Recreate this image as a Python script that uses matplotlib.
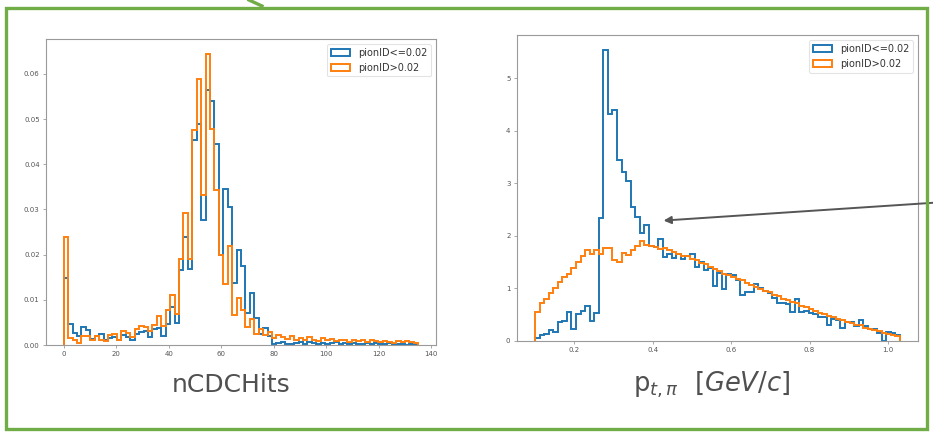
import numpy as np
import matplotlib
matplotlib.use("Agg")
import matplotlib.pyplot as plt
from matplotlib.patches import Rectangle

# ---- data: density per bin, 80 equal-width bins ----
ncdc_range = (0, 135)
pt_range = (0.1, 1.03)
n_bins = 80

ncdc_low = [  # pionID <= 0.02
    0.0148, 0.0046, 0.0026, 0.0019, 0.0039, 0.0034, 0.0014, 0.0020,
    0.0025, 0.0012, 0.0015, 0.0018, 0.0012, 0.0022, 0.0018, 0.0012,
    0.0025, 0.0028, 0.0030, 0.0018, 0.0035, 0.0038, 0.0020, 0.0047,
    0.0084, 0.0048, 0.0167, 0.0238, 0.0169, 0.0453, 0.0490, 0.0276,
    0.0564, 0.0540, 0.0445, 0.0200, 0.0345, 0.0305, 0.0138, 0.0210,
    0.0175, 0.0070, 0.0115, 0.0060, 0.0025, 0.0038, 0.0020, 0.0003,
    0.0004, 0.0006, 0.0003, 0.0002, 0.0005, 0.0007, 0.0003, 0.0006,
    0.0004, 0.0002, 0.0005, 0.0003, 0.0004, 0.0006, 0.0002, 0.0004,
    0.0003, 0.0005, 0.0002, 0.0003, 0.0004, 0.0002, 0.0005, 0.0003,
    0.0002, 0.0004, 0.0002, 0.0003, 0.0002, 0.0001, 0.0002, 0.0001,
]
ncdc_high = [  # pionID > 0.02
    0.0238, 0.0016, 0.0010, 0.0005, 0.0020, 0.0019, 0.0010, 0.0020,
    0.0012, 0.0008, 0.0022, 0.0025, 0.0012, 0.0030, 0.0026, 0.0018,
    0.0035, 0.0043, 0.0040, 0.0030, 0.0045, 0.0065, 0.0042, 0.0078,
    0.0111, 0.0068, 0.0191, 0.0293, 0.0191, 0.0475, 0.0588, 0.0331,
    0.0645, 0.0477, 0.0342, 0.0200, 0.0134, 0.0220, 0.0066, 0.0103,
    0.0077, 0.0040, 0.0058, 0.0025, 0.0035, 0.0022, 0.0028, 0.0015,
    0.0022, 0.0018, 0.0014, 0.0020, 0.0012, 0.0016, 0.0010, 0.0018,
    0.0012, 0.0009, 0.0015, 0.0011, 0.0014, 0.0008, 0.0012, 0.0010,
    0.0007, 0.0012, 0.0009, 0.0011, 0.0006, 0.0010, 0.0008, 0.0006,
    0.0009, 0.0007, 0.0005, 0.0008, 0.0006, 0.0008, 0.0007, 0.0004,
]
pt_low = [
    0.05, 0.10, 0.13, 0.20, 0.17, 0.35, 0.37, 0.55,
    0.22, 0.50, 0.57, 0.66, 0.37, 0.52, 2.33, 5.55,
    4.33, 4.40, 3.45, 3.22, 3.05, 2.55, 2.35, 2.05,
    2.20, 1.80, 1.78, 1.93, 1.60, 1.65, 1.58, 1.65,
    1.55, 1.62, 1.65, 1.40, 1.50, 1.35, 1.38, 1.05,
    1.30, 0.98, 1.28, 1.26, 1.15, 0.88, 0.92, 0.93,
    1.09, 1.00, 0.95, 0.90, 0.82, 0.72, 0.72, 0.70,
    0.55, 0.80, 0.55, 0.56, 0.52, 0.50, 0.46, 0.45,
    0.30, 0.42, 0.40, 0.25, 0.36, 0.35, 0.28, 0.39,
    0.28, 0.23, 0.22, 0.15, 0.00, 0.17, 0.15, 0.10,
]
pt_high = [
    0.55, 0.72, 0.80, 0.90, 1.00, 1.12, 1.22, 1.28,
    1.38, 1.50, 1.62, 1.72, 1.66, 1.72, 1.66, 1.76,
    1.77, 1.53, 1.50, 1.68, 1.63, 1.72, 1.80, 1.90,
    1.82, 1.80, 1.78, 1.75, 1.76, 1.72, 1.70, 1.66,
    1.62, 1.61, 1.55, 1.53, 1.48, 1.46, 1.40, 1.37,
    1.33, 1.28, 1.26, 1.22, 1.18, 1.15, 1.10, 1.06,
    1.02, 0.99, 0.95, 0.93, 0.88, 0.86, 0.80, 0.78,
    0.74, 0.71, 0.66, 0.64, 0.60, 0.57, 0.53, 0.51,
    0.47, 0.45, 0.41, 0.39, 0.35, 0.34, 0.30, 0.29,
    0.25, 0.23, 0.20, 0.18, 0.15, 0.13, 0.11, 0.09,
]
labels = ["pionID<=0.02", "pionID>0.02"]
colors = ["#1f77b4", "#ff7f0e"]

W, H = 933, 433
fig = plt.figure(figsize=(W / 100, H / 100), dpi=100)
fig.patch.set_facecolor("white")


def px_axes(left, top, right, bottom):
    return fig.add_axes([left / W, 1 - bottom / H, (right - left) / W, (bottom - top) / H])


def draw_hist(ax, lo, hi, series):
    edges = np.linspace(lo, hi, n_bins + 1)
    centers = 0.5 * (edges[:-1] + edges[1:])
    for vals, lab, col in zip(series, labels, colors):
        ax.hist(centers, bins=edges, weights=vals, histtype="step",
                color=col, lw=1.4, label=lab)
    for sp in ax.spines.values():
        sp.set_color("#9a9a9a")
        sp.set_linewidth(0.8)
    ax.tick_params(labelsize=5, colors="#9a9a9a", labelcolor="#555555",
                   length=2.5, width=0.6, pad=2)
    leg = ax.legend(loc="upper right", fontsize=7, frameon=True,
                    handlelength=2.0, borderaxespad=0.5)
    leg.get_frame().set_edgecolor("#dddddd")
    leg.get_frame().set_linewidth(0.8)
    for t in leg.get_texts():
        t.set_color("#333333")


ax1 = px_axes(46, 39, 436, 345)
draw_hist(ax1, *ncdc_range, [ncdc_low, ncdc_high])
ax1.set_xticks(np.arange(0, 141, 20))
ax1.yaxis.set_major_formatter(matplotlib.ticker.FormatStrFormatter("%.2f"))

ax2 = px_axes(516.7, 35, 918, 340.7)
draw_hist(ax2, *pt_range, [pt_low, pt_high])
ax2.set_xticks([0.2, 0.4, 0.6, 0.8, 1.0])
ax2.set_yticks(range(0, 6))

# axis titles below each panel
fig.text(231 / W, 1 - 385 / H, "nCDCHits", fontsize=18, color="#505050",
         ha="center", va="center")
fig.text(712 / W, 1 - 385 / H, r"p$_{t,\pi}$ $\ [GeV/c]$", fontsize=18.5,
         color="#505050", ha="center", va="center")

# pointer into the right panel
ax2.annotate("", xy=(0.428, 2.29), xycoords="data",
             xytext=(945, H - 202), textcoords="figure pixels",
             arrowprops=dict(arrowstyle="-|>", color="#555555", lw=1.4,
                             mutation_scale=11, shrinkA=0, shrinkB=0),
             annotation_clip=False)

# green frame around both panels
green = "#70ad47"
fig.add_artist(Rectangle((5.5 / W, 1 - 429 / H), (927 - 5.5) / W, (429 - 7.5) / H,
                         transform=fig.transFigure, fill=False,
                         edgecolor=green, lw=2.4))
fig.add_artist(plt.Line2D([249 / W, 262 / W], [1.0, 1 - 6 / H],
                          transform=fig.transFigure, color=green, lw=2.4))

fig.savefig("out.png", dpi=100)
